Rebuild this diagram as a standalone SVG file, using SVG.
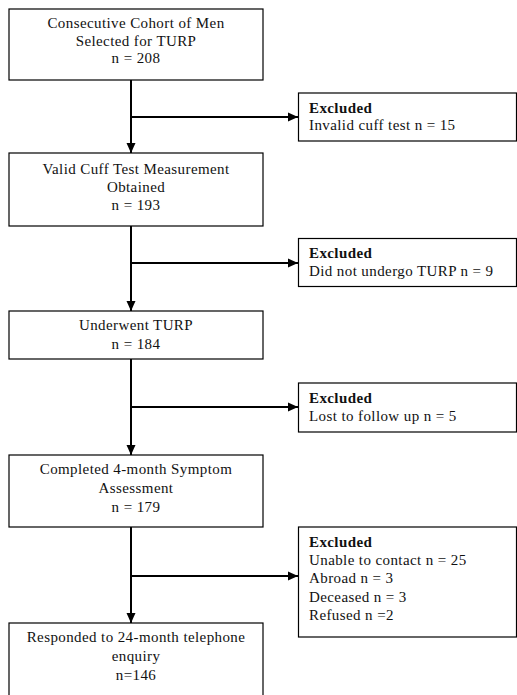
<svg xmlns="http://www.w3.org/2000/svg" width="517" height="695" viewBox="0 0 517 695">
<defs>
<marker id="ah" markerUnits="userSpaceOnUse" markerWidth="10" markerHeight="10" viewBox="0 0 10 10" refX="10" refY="5" orient="auto">
<path d="M0,0.5 L10,5 L0,9.5 Z" fill="#000"/>
</marker>
<style>
.box{fill:#fff;stroke:#000;stroke-width:1.2}
.t{font-family:"Liberation Serif","Times New Roman",serif;font-size:15px;fill:#111;letter-spacing:0.4px}
.c{text-anchor:middle}
.b{font-weight:bold}
.ln{stroke:#000;stroke-width:2;fill:none}
</style>
</defs>
<rect width="517" height="695" fill="#fff"/>
<g id="connectors">
<line class="ln" x1="131" y1="80" x2="131" y2="153" marker-end="url(#ah)"/>
<line class="ln" x1="131" y1="117" x2="298" y2="117" marker-end="url(#ah)"/>
<line class="ln" x1="131" y1="226" x2="131" y2="311" marker-end="url(#ah)"/>
<line class="ln" x1="131" y1="263" x2="298" y2="263" marker-end="url(#ah)"/>
<line class="ln" x1="131" y1="359" x2="131" y2="455" marker-end="url(#ah)"/>
<line class="ln" x1="131" y1="407" x2="298" y2="407" marker-end="url(#ah)"/>
<line class="ln" x1="131" y1="527" x2="131" y2="623" marker-end="url(#ah)"/>
<line class="ln" x1="131" y1="576" x2="298" y2="576" marker-end="url(#ah)"/>
</g>
<g id="n1">
<rect class="box" x="9" y="9" width="254" height="71"/>
<text class="t c" x="136" y="28">Consecutive Cohort of Men</text>
<text class="t c" x="136" y="46">Selected for TURP</text>
<text class="t c" x="136" y="63">n = 208</text>
</g>
<g id="x1">
<rect class="box" x="298.5" y="93" width="218" height="48"/>
<text class="t b" x="309" y="113">Excluded</text>
<text class="t" x="309" y="130">Invalid cuff test n = 15</text>
</g>
<g id="n2">
<rect class="box" x="9" y="153" width="254" height="73"/>
<text class="t c" x="136" y="174">Valid Cuff Test Measurement</text>
<text class="t c" x="136" y="192">Obtained</text>
<text class="t c" x="136" y="210">n = 193</text>
</g>
<g id="x2">
<rect class="box" x="298.5" y="238.5" width="218" height="48"/>
<text class="t b" x="309" y="258">Excluded</text>
<text class="t" x="309" y="276">Did not undergo TURP n = 9</text>
</g>
<g id="n3">
<rect class="box" x="9" y="311" width="254" height="48"/>
<text class="t c" x="136" y="330">Underwent TURP</text>
<text class="t c" x="136" y="349">n = 184</text>
</g>
<g id="x3">
<rect class="box" x="298.5" y="383" width="218" height="49"/>
<text class="t b" x="309" y="403">Excluded</text>
<text class="t" x="309" y="421">Lost to follow up n = 5</text>
</g>
<g id="n4">
<rect class="box" x="9" y="455" width="254" height="72"/>
<text class="t c" x="136" y="474">Completed 4-month Symptom</text>
<text class="t c" x="136" y="493">Assessment</text>
<text class="t c" x="136" y="512">n = 179</text>
</g>
<g id="x4">
<rect class="box" x="298.5" y="527" width="218" height="110"/>
<text class="t b" x="309" y="547">Excluded</text>
<text class="t" x="309" y="565">Unable to contact n = 25</text>
<text class="t" x="309" y="583">Abroad n = 3</text>
<text class="t" x="309" y="602">Deceased n = 3</text>
<text class="t" x="309" y="620">Refused n =2</text>
</g>
<g id="n5">
<rect class="box" x="9" y="623" width="254" height="80"/>
<text class="t c" x="136" y="642">Responded to 24-month telephone</text>
<text class="t c" x="136" y="661">enquiry</text>
<text class="t c" x="136" y="680">n=146</text>
</g>
</svg>
